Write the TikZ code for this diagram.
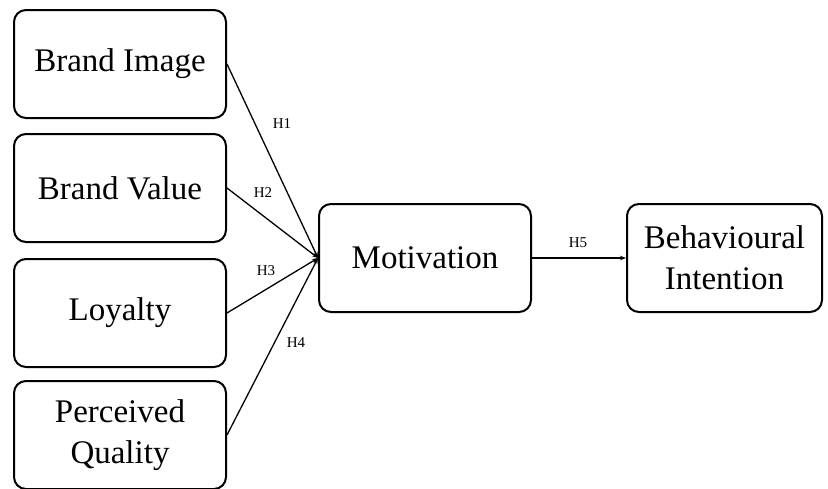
\documentclass[tikz,border=0pt]{standalone}
\usepackage{fontspec}
\setmainfont{Liberation Serif}
\usetikzlibrary{arrows.meta}
\tikzset{%
	block/.style    = {draw, line width=2pt, rectangle, rounded corners=12pt,
		minimum height = 108pt, minimum width = 212pt, align=center,
		font=\fontsize{33}{41}\selectfont},
	hyp/.style      = {font=\fontsize{15}{17}\selectfont, inner sep=1pt}, % Hypothesis label
	link/.style     = {line width=1.3pt, -{Stealth[length=6pt,width=4.5pt]}} % Path
}

\begin{document}
\begin{tikzpicture}[x=1pt,y=1pt]
			\useasboundingbox (0,0) rectangle (828,-488);
			\node[block]     (brandImage)   at (120,-64)  {Brand Image} ;
			\node[block]     (brandValue)   at (120,-188) {Brand Value} ;
			\node[block]     (loyalty)      at (120,-313) {Loyalty} ;
			\node[block]     (quality)      at (120,-435) {Perceived\\Quality} ;
			\node[block]     (motivation)   at (425,-258) {Motivation} ;
			\node[block, minimum width=195pt] (intention) at (724.5,-258) {Behavioural\\Intention} ;
			
			\draw[link] (brandImage.east) -- (motivation.west);
			\draw[link] (brandValue.east) -- (motivation.west);
			\draw[link] (loyalty.east) -- (motivation.west);
			\draw[link] (quality.east) -- (motivation.west);
			\draw[link] (motivation.east) -- (intention.west);
			
			\node[hyp]       (h1)           at (282,-124) {H1} ;
			\node[hyp]       (h2)           at (263,-193) {H2} ;
			\node[hyp]       (h3)           at (266,-271) {H3} ;
			\node[hyp]       (h4)           at (296,-343) {H4} ;
			\node[hyp]       (h5)           at (578,-243) {H5} ;
		\end{tikzpicture}
\end{document}
